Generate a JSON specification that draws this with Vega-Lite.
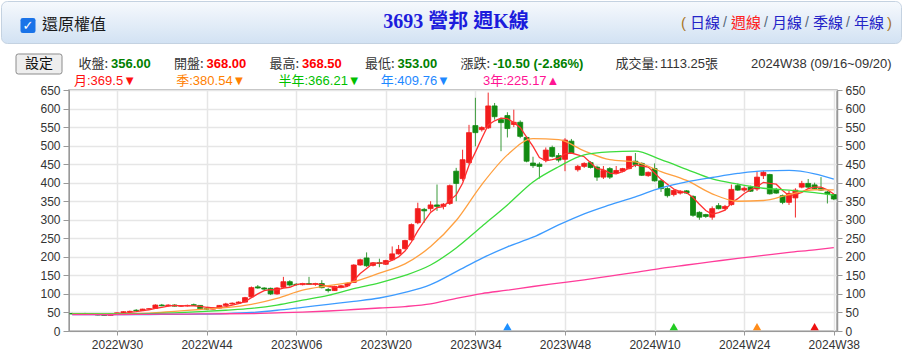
{
"$schema":"https://vega.github.io/schema/vega-lite/v6.json",
"padding":0,
"background":"#ffffff",
"columns":1,
"spacing":0,
"bounds":"flush",
"config":{"view":{"stroke":null},"font":"Liberation Sans","text":{"font":"'Liberation Sans','Noto Sans CJK TC'"}},
"datasets":{
"k":[
{"w":"2022W23","o":47,"h":49,"l":45,"c":46,"m":46},
{"w":"2022W24","o":46,"h":48,"l":44,"c":47,"m":46},
{"w":"2022W25","o":47,"h":49,"l":45,"c":46,"m":46},
{"w":"2022W26","o":46,"h":48,"l":44,"c":45,"m":46},
{"w":"2022W27","o":45,"h":47,"l":42,"c":43,"m":45},
{"w":"2022W28","o":43,"h":45,"l":41,"c":42,"m":44},
{"w":"2022W29","o":42,"h":47,"l":41,"c":46,"m":44},
{"w":"2022W30","o":46,"h":50,"l":45,"c":49,"m":45},
{"w":"2022W31","o":49,"h":53,"l":48,"c":52,"m":47},
{"w":"2022W32","o":52,"h":55,"l":50,"c":53,"m":50},
{"w":"2022W33","o":56,"h":59,"l":54,"c":55,"m":52},
{"w":"2022W34","o":55,"h":60,"l":54,"c":59,"m":55},
{"w":"2022W35","o":59,"h":62,"l":57,"c":60,"m":57},
{"w":"2022W36","o":61,"h":72,"l":60,"c":70,"m":61},
{"w":"2022W37","o":70,"h":73,"l":67,"c":68,"m":64},
{"w":"2022W38","o":68,"h":72,"l":66,"c":70,"m":67},
{"w":"2022W39","o":70,"h":72,"l":66,"c":67,"m":69},
{"w":"2022W40","o":67,"h":70,"l":65,"c":68,"m":68},
{"w":"2022W41","o":68,"h":71,"l":66,"c":69,"m":68.5},
{"w":"2022W42","o":71,"h":74,"l":68,"c":69,"m":68},
{"w":"2022W43","o":69,"h":70,"l":58,"c":60,"m":66.5},
{"w":"2022W44","o":60,"h":63,"l":57,"c":59,"m":64},
{"w":"2022W45","o":59,"h":64,"l":58,"c":62,"m":62.5},
{"w":"2022W46","o":62,"h":70,"l":61,"c":69,"m":62.5},
{"w":"2022W47","o":69,"h":76,"l":68,"c":73,"m":66},
{"w":"2022W48","o":73,"h":77,"l":71,"c":75,"m":70},
{"w":"2022W49","o":75,"h":80,"l":73,"c":78,"m":74},
{"w":"2022W50","o":78,"h":92,"l":77,"c":90,"m":79},
{"w":"2022W51","o":92,"h":120,"l":90,"c":117,"m":90},
{"w":"2022W52","o":119,"h":124,"l":114,"c":116,"m":100},
{"w":"2023W01","o":116,"h":118,"l":110,"c":113,"m":109},
{"w":"2023W02","o":115,"h":117,"l":97,"c":100,"m":111.5},
{"w":"2023W03","o":100,"h":118,"l":98,"c":116,"m":111},
{"w":"2023W04","o":118,"h":146,"l":116,"c":133,"m":115.5},
{"w":"2023W05","o":133,"h":137,"l":120,"c":124,"m":118},
{"w":"2023W06","o":126,"h":129,"l":122,"c":125,"m":125},
{"w":"2023W07","o":125,"h":130,"l":123,"c":128,"m":128},
{"w":"2023W08","o":128,"h":146,"l":124,"c":126,"m":126},
{"w":"2023W09","o":126,"h":130,"l":122,"c":128,"m":127},
{"w":"2023W10","o":128,"h":137,"l":115,"c":117,"m":125},
{"w":"2023W11","o":112,"h":116,"l":104,"c":109,"m":120},
{"w":"2023W12","o":109,"h":122,"l":108,"c":120,"m":118.5},
{"w":"2023W13","o":118,"h":124,"l":116,"c":122,"m":117},
{"w":"2023W14","o":122,"h":131,"l":120,"c":128,"m":120},
{"w":"2023W15","o":131,"h":180,"l":130,"c":178,"m":137},
{"w":"2023W16","o":178,"h":195,"l":176,"c":192,"m":155},
{"w":"2023W17","o":197,"h":212,"l":173,"c":176,"m":168.5},
{"w":"2023W18","o":177,"h":186,"l":174,"c":184,"m":182.5},
{"w":"2023W19","o":184,"h":195,"l":172,"c":182,"m":183.5},
{"w":"2023W20","o":180,"h":192,"l":178,"c":190,"m":183},
{"w":"2023W21","o":192,"h":228,"l":190,"c":208,"m":191},
{"w":"2023W22","o":208,"h":232,"l":206,"c":220,"m":200},
{"w":"2023W23","o":222,"h":246,"l":220,"c":244,"m":215.5},
{"w":"2023W24","o":246,"h":290,"l":244,"c":287,"m":240},
{"w":"2023W25","o":292,"h":346,"l":288,"c":330,"m":270},
{"w":"2023W26","o":328,"h":332,"l":292,"c":324,"m":296},
{"w":"2023W27","o":330,"h":350,"l":322,"c":340,"m":320},
{"w":"2023W28","o":340,"h":395,"l":324,"c":336,"m":332.5},
{"w":"2023W29","o":336,"h":345,"l":328,"c":342,"m":335.5},
{"w":"2023W30","o":344,"h":395,"l":340,"c":392,"m":352.5},
{"w":"2023W31","o":431,"h":440,"l":350,"c":398,"m":367},
{"w":"2023W32","o":411,"h":489,"l":405,"c":462,"m":398.5},
{"w":"2023W33","o":454,"h":556,"l":450,"c":535,"m":447},
{"w":"2023W34","o":554,"h":629,"l":498,"c":535,"m":482.5},
{"w":"2023W35","o":543,"h":552,"l":538,"c":549,"m":520},
{"w":"2023W36","o":548,"h":643,"l":545,"c":607,"m":556},
{"w":"2023W37","o":607,"h":615,"l":570,"c":578,"m":567},
{"w":"2023W38","o":570,"h":575,"l":485,"c":562,"m":574},
{"w":"2023W39","o":581,"h":590,"l":522,"c":546,"m":573},
{"w":"2023W40","o":557,"h":597,"l":550,"c":563,"m":562},
{"w":"2023W41","o":563,"h":568,"l":520,"c":525,"m":549},
{"w":"2023W42","o":522,"h":525,"l":455,"c":458,"m":523},
{"w":"2023W43","o":453,"h":470,"l":440,"c":446,"m":498},
{"w":"2023W44","o":450,"h":455,"l":411,"c":444,"m":468},
{"w":"2023W45","o":461,"h":495,"l":455,"c":488,"m":459},
{"w":"2023W46","o":495,"h":500,"l":468,"c":471,"m":462},
{"w":"2023W47","o":473,"h":480,"l":455,"c":461,"m":466},
{"w":"2023W48","o":463,"h":520,"l":431,"c":515,"m":478},
{"w":"2023W49","o":512,"h":518,"l":478,"c":480,"m":480},
{"w":"2023W50","o":435,"h":448,"l":430,"c":444,"m":475},
{"w":"2023W51","o":444,"h":455,"l":440,"c":452,"m":470},
{"w":"2023W52","o":454,"h":458,"l":438,"c":441,"m":454},
{"w":"2024W01","o":442,"h":446,"l":405,"c":415,"m":438},
{"w":"2024W02","o":415,"h":445,"l":410,"c":433,"m":435},
{"w":"2024W03","o":438,"h":442,"l":410,"c":415,"m":426},
{"w":"2024W04","o":426,"h":445,"l":424,"c":433,"m":424},
{"w":"2024W05","o":431,"h":440,"l":428,"c":438,"m":430},
{"w":"2024W06","o":438,"h":472,"l":436,"c":471,"m":439},
{"w":"2024W07","o":458,"h":480,"l":442,"c":449,"m":448},
{"w":"2024W08","o":452,"h":455,"l":418,"c":420,"m":445},
{"w":"2024W09","o":419,"h":430,"l":416,"c":428,"m":442},
{"w":"2024W10","o":438,"h":452,"l":403,"c":405,"m":426},
{"w":"2024W11","o":405,"h":408,"l":375,"c":384,"m":409},
{"w":"2024W12","o":384,"h":388,"l":360,"c":365,"m":396},
{"w":"2024W13","o":368,"h":382,"l":363,"c":379,"m":383},
{"w":"2024W14","o":372,"h":380,"l":368,"c":377,"m":376},
{"w":"2024W15","o":378,"h":380,"l":370,"c":372,"m":373},
{"w":"2024W16","o":363,"h":366,"l":308,"c":312,"m":360},
{"w":"2024W17","o":320,"h":323,"l":300,"c":307,"m":342},
{"w":"2024W18","o":314,"h":316,"l":305,"c":309,"m":325},
{"w":"2024W19","o":307,"h":336,"l":300,"c":330,"m":315},
{"w":"2024W20","o":338,"h":345,"l":328,"c":330,"m":319},
{"w":"2024W21","o":330,"h":340,"l":325,"c":336,"m":326},
{"w":"2024W22","o":341,"h":395,"l":338,"c":382,"m":345},
{"w":"2024W23","o":392,"h":398,"l":378,"c":380,"m":357},
{"w":"2024W24","o":380,"h":390,"l":375,"c":385,"m":371},
{"w":"2024W25","o":388,"h":392,"l":375,"c":377,"m":381},
{"w":"2024W26","o":383,"h":430,"l":378,"c":415,"m":389},
{"w":"2024W27","o":419,"h":432,"l":410,"c":428,"m":401},
{"w":"2024W28","o":422,"h":424,"l":368,"c":370,"m":398},
{"w":"2024W29","o":382,"h":386,"l":370,"c":372,"m":396},
{"w":"2024W30","o":365,"h":368,"l":342,"c":347,"m":379},
{"w":"2024W31","o":347,"h":378,"l":340,"c":371,"m":365},
{"w":"2024W32","o":359,"h":385,"l":306,"c":380,"m":368},
{"w":"2024W33","o":388,"h":405,"l":385,"c":398,"m":374},
{"w":"2024W34","o":398,"h":410,"l":385,"c":388,"m":384},
{"w":"2024W35","o":394,"h":400,"l":382,"c":384,"m":388},
{"w":"2024W36","o":385,"h":415,"l":378,"c":380,"m":388},
{"w":"2024W37","o":375,"h":378,"l":344,"c":370,"m":381},
{"w":"2024W38","o":368,"h":368.5,"l":353,"c":356,"m":369.5}
],
"ma":[
{"w":"2022W23","q":46,"hy":46,"yr":44,"y3":44},
{"w":"2022W27","q":46,"hy":46,"yr":44,"y3":44},
{"w":"2022W31","q":46,"hy":46,"yr":44,"y3":44.5},
{"w":"2022W35","q":48,"hy":47,"yr":44.5,"y3":45},
{"w":"2022W39","q":53,"hy":49,"yr":45,"y3":45.5},
{"w":"2022W43","q":58,"hy":52,"yr":45.5,"y3":46},
{"w":"2022W47","q":63,"hy":56,"yr":47,"y3":46.5},
{"w":"2022W51","q":72,"hy":61,"yr":50,"y3":47},
{"w":"2023W03","q":88,"hy":70,"yr":56,"y3":49},
{"w":"2023W07","q":110,"hy":83,"yr":64,"y3":51},
{"w":"2023W11","q":122,"hy":96,"yr":72,"y3":54},
{"w":"2023W15","q":133,"hy":114,"yr":80,"y3":58},
{"w":"2023W19","q":156,"hy":130,"yr":89,"y3":62},
{"w":"2023W23","q":181,"hy":150,"yr":104,"y3":66},
{"w":"2023W27","q":228,"hy":178,"yr":125,"y3":73},
{"w":"2023W31","q":298,"hy":224,"yr":160,"y3":88},
{"w":"2023W35","q":395,"hy":282,"yr":196,"y3":101},
{"w":"2023W39","q":475,"hy":340,"yr":227,"y3":110},
{"w":"2023W43","q":519,"hy":402,"yr":253,"y3":120},
{"w":"2023W47","q":516,"hy":443,"yr":286,"y3":129},
{"w":"2023W51","q":486,"hy":475,"yr":316,"y3":138},
{"w":"2024W03","q":462,"hy":483,"yr":340,"y3":148},
{"w":"2024W07","q":456,"hy":485,"yr":362,"y3":158},
{"w":"2024W11","q":430,"hy":462,"yr":386,"y3":169},
{"w":"2024W15","q":406,"hy":436,"yr":402,"y3":178},
{"w":"2024W19","q":370,"hy":410,"yr":414,"y3":187},
{"w":"2024W23","q":350,"hy":396,"yr":425,"y3":196},
{"w":"2024W27","q":352,"hy":385,"yr":432,"y3":204},
{"w":"2024W31","q":368,"hy":380,"yr":433,"y3":212},
{"w":"2024W35","q":381,"hy":373,"yr":424,"y3":219},
{"w":"2024W38","q":380.54,"hy":366.21,"yr":409.76,"y3":225.17}
],
"sig":[{"w":"2023W39","s":"年"},{"w":"2024W13","s":"半年"},{"w":"2024W26","s":"季"},{"w":"2024W35","s":"月"}],
"h1a":[{"k":"cb","t":"✓"},{"k":"lbl","t":"還原權值"}],
"h1w":[{"k":"日線"},{"k":"週線"},{"k":"月線"},{"k":"季線"},{"k":"年線"}],
"h1s":[{"k":"s1"},{"k":"s2"},{"k":"s3"},{"k":"s4"}],
"h1p":[{"k":"("},{"k":")"}],
"h2a":[{"lab":"收盤:","val":"356.00"},{"lab":"開盤:","val":"368.00"},{"lab":"最高:","val":"368.50"},{"lab":"最低:","val":"353.00"},{"lab":"漲跌:","val":"-10.50  (-2.86%)"}],
"h2b":[{"k":"vol","lab":"成交量:","val":"1113.25張"},{"k":"date","lab":"","val":"2024W38 (09/16~09/20)"}],
"h2c":[{"k":"月","t":"月:369.5▼"},{"k":"季","t":"季:380.54▼"},{"k":"半年","t":"半年:366.21▼"},{"k":"年","t":"年:409.76▼"},{"k":"3年","t":"3年:225.17▲"}]
},
"concat":[
{
"width":900,"height":42,
"view":{"fill":{"gradient":"linear","x1":0,"y1":0,"x2":0,"y2":1,"stops":[{"offset":0,"color":"#f6f9fd"},{"offset":1,"color":"#d2e2f3"}]},"stroke":"#c4d2e1","cornerRadius":6},
"layer":[
{"data":{"name":"h1a"},"transform":[{"filter":{"field":"k","equal":"cb"}}],
 "mark":{"type":"point","shape":"M-0.7,-1L0.7,-1Q1,-1 1,-0.7L1,0.7Q1,1 0.7,1L-0.7,1Q-1,1 -1,0.7L-1,-0.7Q-1,-1 -0.7,-1Z","filled":true,"size":225,"opacity":1,"color":"#1a73e8","yOffset":3.5},
 "encoding":{"x":{"field":"k","type":"nominal","scale":{"type":"point","domain":["cb","lbl"],"range":[27,41],"padding":0},"axis":null}}},
{"data":{"name":"h1a"},"transform":[{"filter":{"field":"k","equal":"cb"}}],
 "mark":{"type":"text","color":"#ffffff","fontSize":13,"fontWeight":"bold","dy":3.5,"font":"DejaVu Sans"},
 "encoding":{"x":{"field":"k","type":"nominal","scale":{"type":"point","domain":["cb","lbl"],"range":[27,41],"padding":0},"axis":null},"text":{"field":"t"}}},
{"data":{"name":"h1a"},"transform":[{"filter":{"field":"k","equal":"lbl"}}],
 "mark":{"type":"text","color":"#1a1a1a","fontSize":16,"align":"left","dy":2.5,"font":"Noto Sans CJK TC"},
 "encoding":{"x":{"field":"k","type":"nominal","scale":{"type":"point","domain":["cb","lbl"],"range":[27,41],"padding":0},"axis":null},"text":{"field":"t"}}},
{"data":{"values":[{"t":"3693 營邦 週K線"}]},
 "mark":{"type":"text","color":"#1c1cdc","fontSize":20,"fontWeight":"bold","align":"center","dx":5,"font":"'Liberation Serif','Noto Sans CJK TC'"},
 "encoding":{"text":{"field":"t"}}},
{"data":{"name":"h1w"},
 "mark":{"type":"text","fontSize":15,"align":"left","dy":1,"font":"Noto Sans CJK TC"},
 "encoding":{"x":{"field":"k","type":"nominal","sort":null,"scale":{"type":"point","range":[689,853],"padding":0},"axis":null},
  "text":{"field":"k"},
  "color":{"field":"k","type":"nominal","scale":{"domain":["日線","週線","月線","季線","年線"],"range":["#2424c8","#ff2020","#2424c8","#2424c8","#2424c8"]},"legend":null}}},
{"data":{"name":"h1s"},
 "mark":{"type":"text","fontSize":14,"align":"left","dy":1,"color":"#556677","text":"/"},
 "encoding":{"x":{"field":"k","type":"nominal","sort":null,"scale":{"type":"point","range":[722,845],"padding":0},"axis":null}}},
{"data":{"name":"h1p"},
 "mark":{"type":"text","fontSize":15,"align":"left","dy":1,"color":"#a8761e"},
 "encoding":{"x":{"field":"k","type":"nominal","sort":null,"scale":{"type":"point","range":[680,886],"padding":0},"axis":null},"text":{"field":"k"}}}
],
"resolve":{"scale":{"x":"independent","color":"independent"}}
},
{
"width":900,"height":47,
"layer":[
{"data":{"values":[{"t":"設定"}]},
 "mark":{"type":"point","shape":"M-0.9,-0.435L0.9,-0.435Q1,-0.435 1,-0.335L1,0.335Q1,0.435 0.9,0.435L-0.9,0.435Q-1,0.435 -1,0.335L-1,-0.335Q-1,-0.435 -0.9,-0.435Z","filled":true,"size":2116,"opacity":1,"fill":"#eeeeee","stroke":"#8c8c8c","strokeWidth":1,"yOffset":-2.5},
 "encoding":{"x":{"field":"t","type":"nominal","scale":{"type":"point","range":[0,76],"padding":0},"axis":null}}},
{"data":{"values":[{"t":"設定"}]},
 "mark":{"type":"text","fontSize":14,"color":"#111111","align":"center","font":"Noto Sans CJK TC","dy":-2.5},
 "encoding":{"x":{"field":"t","type":"nominal","scale":{"type":"point","range":[0,76],"padding":0},"axis":null},"text":{"field":"t"}}},
{"data":{"name":"h2a"},
 "mark":{"type":"text","fontSize":13,"color":"#333333","align":"right","font":"Noto Sans CJK TC","dy":-3},
 "encoding":{"x":{"field":"lab","type":"nominal","sort":null,"scale":{"type":"point","range":[107,489],"padding":0},"axis":null},"text":{"field":"lab"}}},
{"data":{"name":"h2a"},
 "mark":{"type":"text","fontSize":13,"fontWeight":"bold","align":"left","dx":3,"dy":-3},
 "encoding":{"x":{"field":"lab","type":"nominal","sort":null,"scale":{"type":"point","range":[107,489],"padding":0},"axis":null},"text":{"field":"val"},
  "color":{"field":"lab","type":"nominal","sort":null,"scale":{"domain":["收盤:","開盤:","最高:","最低:","漲跌:"],"range":["#008000","#ff0000","#ff0000","#008000","#008000"]},"legend":null}}},
{"data":{"name":"h2b"},
 "mark":{"type":"text","fontSize":13,"color":"#333333","align":"right","font":"Noto Sans CJK TC","dy":-3},
 "encoding":{"x":{"field":"k","type":"nominal","sort":null,"scale":{"type":"point","range":[657,748],"padding":0},"axis":null},"text":{"field":"lab"}}},
{"data":{"name":"h2b"},
 "mark":{"type":"text","fontSize":13,"color":"#333333","align":"left","dx":2,"dy":-3},
 "encoding":{"x":{"field":"k","type":"nominal","sort":null,"scale":{"type":"point","range":[657,748],"padding":0},"axis":null},"text":{"field":"val"}}},
{"data":{"name":"h2c"},
 "mark":{"type":"text","fontSize":13,"align":"left","dy":14},
 "encoding":{"x":{"field":"k","type":"nominal","sort":null,"scale":{"type":"point","range":[73,482],"padding":0},"axis":null},"text":{"field":"t"},
  "color":{"field":"k","type":"nominal","scale":{"domain":["月","季","半年","年","3年"],"range":["#ff1010","#ff8000","#00c000","#1e88ff","#ff1493"]},"legend":null}}}
],
"resolve":{"scale":{"x":"independent","color":"independent"}}
},
{
"spacing":0,
"bounds":"full",
"hconcat":[
{"width":38,"height":241,"data":{"values":[{}]},"mark":{"type":"text","text":""}},
{
"width":768,"height":241,
"view":{"stroke":"#a8a8a8","strokeWidth":1.5},
"encoding":{"x":{"field":"w","type":"ordinal","scale":{"type":"point","padding":0.5},
 "axis":{"values":["2022W30","2022W44","2023W06","2023W20","2023W34","2023W48","2024W10","2024W24","2024W38"],"labelAngle":0,"title":null,"grid":true,"gridColor":"#e6e6e6","gridWidth":1.5,"domainColor":"#999999","tickColor":"#999999","tickSize":4,"labelFontSize":12,"labelColor":"#333333","labelPadding":4}}},
"layer":[
{"data":{"name":"k"},"mark":{"type":"rule","strokeWidth":1},
 "encoding":{"y":{"field":"l","type":"quantitative","scale":{"domain":[0,650],"nice":false,"zero":false},
   "axis":{"orient":"left","values":[0,50,100,150,200,250,300,350,400,450,500,550,600,650],"grid":true,"gridColor":"#e6e6e6","gridWidth":1.5,"domainColor":"#999999","tickColor":"#999999","tickSize":6,"labelFontSize":12,"labelColor":"#333333","labelPadding":3,"title":null}},
  "y2":{"field":"h"},
  "color":{"condition":{"test":"datum.c >= datum.o","value":"#f22a2a"},"value":"#3a9a3a"}}},
{"data":{"name":"k"},"mark":{"type":"bar","size":5,"strokeWidth":0.8},
 "encoding":{"y":{"field":"o","type":"quantitative","scale":{"domain":[0,650],"nice":false,"zero":false},"axis":null},
  "y2":{"field":"c"},
  "color":{"condition":{"test":"datum.c >= datum.o","value":"#f21c1c"},"value":"#128a12"},
  "stroke":{"condition":{"test":"datum.c >= datum.o","value":"#f21c1c"},"value":"#128a12"}}},
{"data":{"name":"k"},"mark":{"type":"line","color":"#ff3030","strokeWidth":1.3},
 "encoding":{"y":{"field":"m","type":"quantitative","scale":{"domain":[0,650],"nice":false,"zero":false},
  "axis":{"orient":"right","values":[0,50,100,150,200,250,300,350,400,450,500,550,600,650],"grid":false,"domainColor":"#999999","domainWidth":1.5,"tickColor":"#999999","tickSize":5,"labelFontSize":12,"labelColor":"#333333","labelPadding":3,"title":null}}}},
{"data":{"name":"ma"},"mark":{"type":"line","color":"#ffa040","strokeWidth":1.3,"interpolate":"monotone"},
 "encoding":{"y":{"field":"q","type":"quantitative","scale":{"domain":[0,650],"nice":false,"zero":false},"axis":null}}},
{"data":{"name":"ma"},"mark":{"type":"line","color":"#3ddc3d","strokeWidth":1.3,"interpolate":"monotone"},
 "encoding":{"y":{"field":"hy","type":"quantitative","scale":{"domain":[0,650],"nice":false,"zero":false},"axis":null}}},
{"data":{"name":"ma"},"mark":{"type":"line","color":"#3d9bff","strokeWidth":1.3,"interpolate":"monotone"},
 "encoding":{"y":{"field":"yr","type":"quantitative","scale":{"domain":[0,650],"nice":false,"zero":false},"axis":null}}},
{"data":{"name":"ma"},"mark":{"type":"line","color":"#ff3c9a","strokeWidth":1.3,"interpolate":"monotone"},
 "encoding":{"y":{"field":"y3","type":"quantitative","scale":{"domain":[0,650],"nice":false,"zero":false},"axis":null}}},
{"data":{"name":"sig"},"mark":{"type":"point","shape":"triangle-up","filled":true,"size":70,"opacity":1},
 "encoding":{"y":{"datum":12,"type":"quantitative","scale":{"domain":[0,650],"nice":false,"zero":false},"axis":null},
  "color":{"field":"s","type":"nominal","scale":{"domain":["年","半年","季","月"],"range":["#1e90ff","#22cc22","#ff8c1a","#ee1111"]},"legend":null}}}
],
"resolve":{"axis":{"y":"independent"}}
}
]
}
]
}
